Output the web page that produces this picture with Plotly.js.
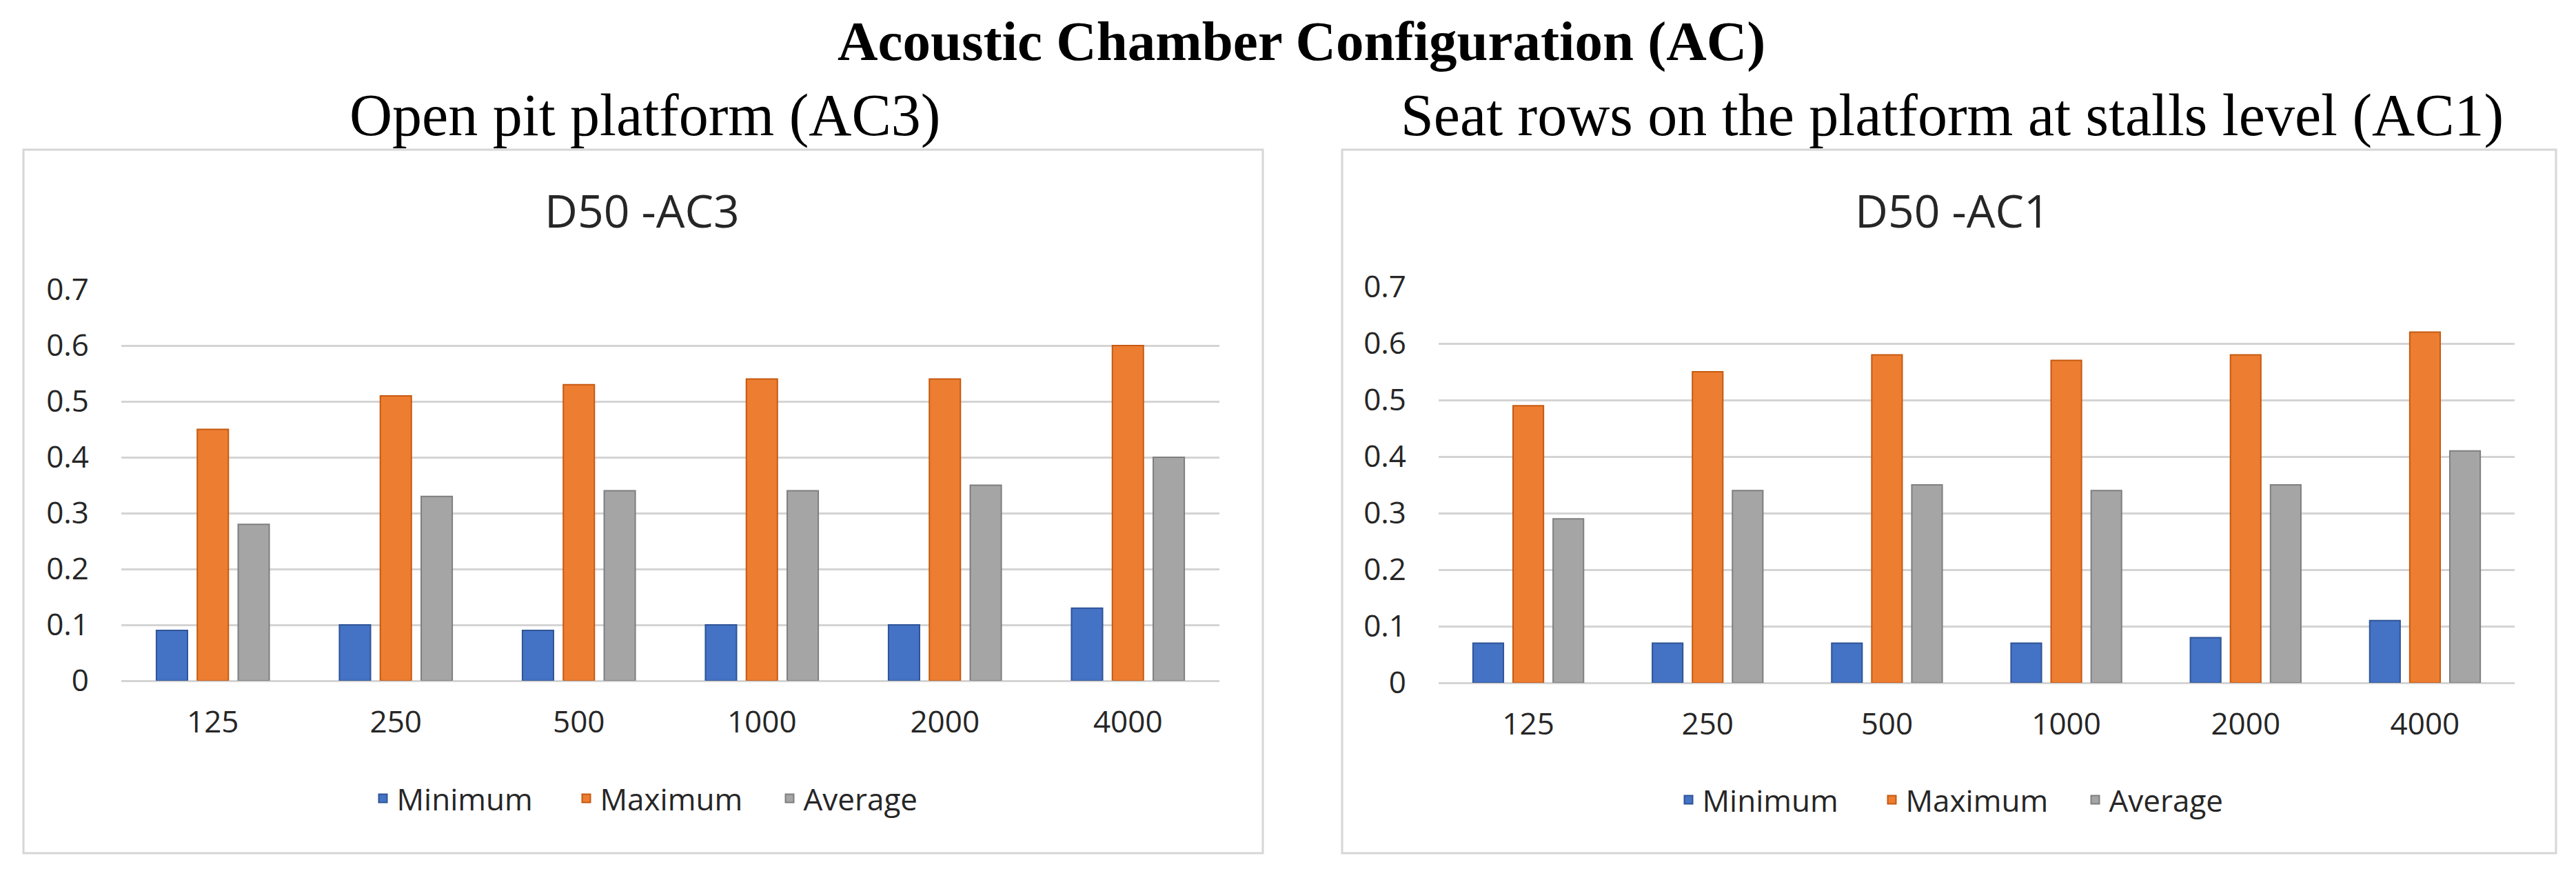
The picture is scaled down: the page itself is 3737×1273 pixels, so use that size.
<!DOCTYPE html>
<html><head><meta charset="utf-8">
<script src="https://cdn.plot.ly/plotly-3.0.1.min.js"></script>
<style>html,body{margin:0;padding:0;background:#fff}</style>
</head><body><div id="chart" style="width:3737px;height:1273px"></div>
<script>
const frequencies = ['125', '250', '500', '1000', '2000', '4000'];
const seriesNames = ['Minimum', 'Maximum', 'Average'];
const ac3Minimum = [0.09, 0.10, 0.09, 0.10, 0.10, 0.13];
const ac3Maximum = [0.45, 0.51, 0.53, 0.54, 0.54, 0.60];
const ac3Average = [0.28, 0.33, 0.34, 0.34, 0.35, 0.40];
const ac1Minimum = [0.07, 0.07, 0.07, 0.07, 0.08, 0.11];
const ac1Maximum = [0.49, 0.55, 0.58, 0.57, 0.58, 0.62];
const ac1Average = [0.29, 0.34, 0.35, 0.34, 0.35, 0.41];
const yTickVals = [0, 0.1, 0.2, 0.3, 0.4, 0.5, 0.6, 0.7];
const yTickText = ['0', '0.1', '0.2', '0.3', '0.4', '0.5', '0.6', '0.7'];
const mainTitle = 'Acoustic Chamber Configuration (AC)';
const leftSubtitle = 'Open pit platform (AC3)';
const rightSubtitle = 'Seat rows on the platform at stalls level (AC1)';
const leftChartTitle = 'D50 -AC3';
const rightChartTitle = 'D50 -AC1';

const fills = ['#4472C4', '#ED7D31', '#A5A5A5'];
const edges = ['#2F5597', '#C55A11', '#7F7F7F'];
const W = 3737, H = 1273;
const px = v => v / W;
const py = v => (H - v) / H;

const leftSeries = [ac3Minimum, ac3Maximum, ac3Average];
const rightSeries = [ac1Minimum, ac1Maximum, ac1Average];
const traces = [];
leftSeries.forEach((vals, i) => traces.push({
  type: 'bar', x: frequencies, y: vals, name: seriesNames[i],
  xaxis: 'x', yaxis: 'y', legend: 'legend',
  marker: {color: fills[i], line: {color: edges[i], width: 2}},
  hoverinfo: 'skip'
}));
rightSeries.forEach((vals, i) => traces.push({
  type: 'bar', x: frequencies, y: vals, name: seriesNames[i],
  xaxis: 'x2', yaxis: 'y2', legend: 'legend2',
  marker: {color: fills[i], line: {color: edges[i], width: 2}},
  hoverinfo: 'skip'
}));

const tickFont = {family: 'Open Sans, sans-serif', size: 44, color: '#262626'};
const gridColor = '#D4D4D4';
function yAxis(domain, anchor) {
  return {
    domain: domain, anchor: anchor, range: [0, 0.7], tickmode: 'array',
    tickvals: yTickVals, ticktext: yTickText, tickfont: tickFont,
    showgrid: true, gridcolor: gridColor, gridwidth: 3,
    zeroline: true, zerolinecolor: gridColor, zerolinewidth: 3,
    showline: false, ticks: '', ticklabelstandoff: 46, fixedrange: true
  };
}
function xAxis(domain, anchor) {
  return {
    domain: domain, anchor: anchor, type: 'category', tickfont: tickFont,
    showgrid: false, zeroline: false, showline: false, ticks: '',
    ticklabelstandoff: 30, fixedrange: true
  };
}
const legendBase = {
  orientation: 'h', xanchor: 'center', yanchor: 'middle', entrywidth: 250,
  font: {family: 'Open Sans, sans-serif', size: 44, color: '#262626'},
  bgcolor: 'rgba(0,0,0,0)', itemclick: false, itemdoubleclick: false
};

const layout = {
  width: W, height: H, margin: {l: 0, r: 0, t: 0, b: 0},
  paper_bgcolor: '#ffffff', plot_bgcolor: '#ffffff',
  showlegend: true, barmode: 'group', bargap: 0.33, bargroupgap: 0.24,
  xaxis: xAxis([px(176), px(1769)], 'y'),
  yaxis: yAxis([py(987), py(420)], 'x'),
  xaxis2: xAxis([px(2087), px(3648)], 'y2'),
  yaxis2: yAxis([py(990), py(416)], 'x2'),
  legend: Object.assign({x: px(978), y: py(1158)}, legendBase),
  legend2: Object.assign({x: px(2872), y: py(1160)}, legendBase),
  shapes: [
    {type: 'rect', xref: 'paper', yref: 'paper', x0: px(34), x1: px(1832), y0: py(1237), y1: py(217),
     line: {color: '#D6D6D6', width: 3}, layer: 'below'},
    {type: 'rect', xref: 'paper', yref: 'paper', x0: px(1947), x1: px(3708), y0: py(1237), y1: py(217),
     line: {color: '#D6D6D6', width: 3}, layer: 'below'}
  ],
  annotations: [
    {text: '<b>' + mainTitle + '</b>', xref: 'paper', yref: 'paper', x: px(1888), y: py(60),
     xanchor: 'center', yanchor: 'middle', showarrow: false,
     font: {family: 'Liberation Serif, serif', size: 81, color: '#000'}},
    {text: leftSubtitle, xref: 'paper', yref: 'paper', x: px(935), y: py(167),
     xanchor: 'center', yanchor: 'middle', showarrow: false,
     font: {family: 'Liberation Serif, serif', size: 86, color: '#000'}},
    {text: rightSubtitle, xref: 'paper', yref: 'paper', x: px(2832), y: py(167),
     xanchor: 'center', yanchor: 'middle', showarrow: false,
     font: {family: 'Liberation Serif, serif', size: 86, color: '#000'}},
    {text: leftChartTitle, xref: 'paper', yref: 'paper', x: px(931), y: py(304),
     xanchor: 'center', yanchor: 'middle', showarrow: false,
     font: {family: 'Open Sans, sans-serif', size: 66, color: '#262626'}},
    {text: rightChartTitle, xref: 'paper', yref: 'paper', x: px(2832), y: py(304),
     xanchor: 'center', yanchor: 'middle', showarrow: false,
     font: {family: 'Open Sans, sans-serif', size: 66, color: '#262626'}}
  ]
};

Plotly.newPlot('chart', traces, layout, {staticPlot: true, displayModeBar: false});
</script>
</body></html>
